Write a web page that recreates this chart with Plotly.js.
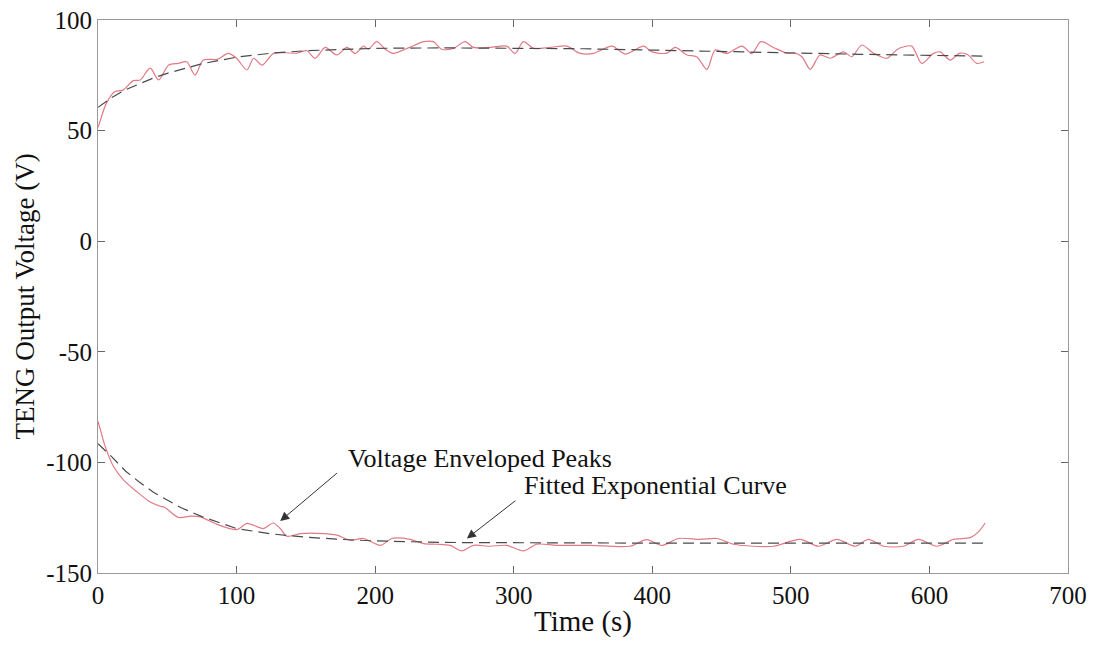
<!DOCTYPE html>
<html>
<head>
<meta charset="utf-8">
<script src="https://cdn.plot.ly/plotly-3.0.1.min.js"></script>
<style>html,body{margin:0;padding:0;background:#fff;}#chart{width:1096px;height:647px;}</style>
</head>
<body>
<div id="chart"></div>
<script>
// Upper envelope (positive voltage peaks)
var upT = [0, 1, 6, 12, 18, 25.5, 30.5, 37.7, 43.7, 51,
  58, 64, 70, 76, 86, 94, 100, 107.5, 112.3, 118.3,
  126.7, 135, 143.6, 150.7, 156.7, 164, 172.4, 179.6, 185.6, 191.6,
  195, 201.2, 207.2, 213.2, 221.6, 225, 234.9, 242, 248, 256.6,
  265, 271, 283, 295, 301, 307, 314.3, 326.3, 338.4, 348,
  357.6, 370.9, 380.4, 393.7, 399.7, 410.5, 416.5, 425, 432, 439.4,
  445.4, 453.8, 464.6, 471.9, 478.4, 487.5, 497.1, 503, 508, 514,
  521, 528.4, 538, 544, 551.2, 559.6, 569.3, 576.5, 581, 587.3,
  594.5, 602.9, 607.7, 615, 622, 628, 634, 639.5];
var upV = [51.5, 53.3, 62.3, 67.6, 68.3, 72.6, 72.9, 78.2, 72.9, 79.6,
  80.4, 81.1, 75.1, 81.9, 82.2, 84.9, 82.7, 77.4, 82.7, 79.6,
  84.9, 85.2, 85, 86.1, 82.7, 87.6, 84.2, 87.6, 84.9, 88.2,
  86.8, 90.2, 86.8, 84.9, 86.8, 87.6, 90.2, 90.2, 86.8, 87.2,
  90.2, 87.6, 87.6, 88.2, 84.9, 90.2, 87.2, 87.6, 88.2, 84.9,
  84.9, 88.2, 84.6, 88.2, 85.6, 85, 87.6, 84.2, 83.4, 77.7,
  86.4, 84.9, 88.2, 84.9, 90.2, 87.6, 85, 85, 83.4, 77.7,
  84.2, 82.7, 85.6, 83.4, 88.7, 85, 82.7, 86.6, 87.8, 88.2,
  80.4, 84.9, 85.6, 81.9, 85, 84.2, 80.4, 81.1];

// Lower envelope (negative voltage peaks)
var lowT = [0, 2.5, 5.3, 11.3, 18.5, 28.1, 37.7, 45, 48, 58.2,
  66.6, 73.8, 85.9, 100.3, 107.5, 119.5, 126.3, 131.5, 136.4, 146,
  162.8, 172.4, 182, 191.6, 203.7, 212.1, 225.3, 235, 244.6, 254,
  262.6, 271, 283, 295, 307, 316.7, 331, 355, 384, 396,
  407, 419, 434.5, 446.6, 458.6, 473, 487.5, 506.7, 520, 533.2,
  546.4, 556, 566.8, 581.2, 592, 605.3, 617.3, 629.4, 635.4, 640.2];
var lowV = [-81.5, -87, -93, -102, -108, -113.3, -117.9, -119.8, -120.3, -124.9,
  -124.3, -124.6, -128, -130.4, -127.6, -129.9, -127.4, -129.9, -133.4, -132.2,
  -132.2, -132.9, -135.2, -134.4, -137.5, -134.4, -134.8, -136.7, -137, -137.5,
  -140, -137.5, -137.9, -137.5, -140, -137, -137.5, -137.5, -137.9, -134.9,
  -137.5, -134.4, -134.8, -134.4, -137, -137.9, -137.9, -134.8, -137.9, -134.8,
  -137.9, -134.8, -137.9, -137.9, -134.8, -137.9, -134.8, -134, -131.4, -127.4];

// Fitted exponential curves
var fitT = [0, 10, 20, 30, 40, 50, 60, 75, 100, 125, 150, 175, 200, 250, 300, 350, 400, 450, 500, 550, 600, 640];
var fitUp = [60.5, 65, 68.5, 71.3, 73.8, 75.9, 77.7, 80.2, 83.2, 85, 86.1, 86.8, 87.2, 87.4, 87.3, 87, 86.4, 85.7, 85, 84.5, 84, 83.7];
var fitLow = [-91.5, -97.5, -104, -109, -113.5, -117, -120.5, -124.5, -129.9, -132.3, -133.8, -134.8, -135.5, -136.2, -136.4, -136.5, -136.5, -136.5, -136.5, -136.5, -136.5, -136.5];

// Ticks
var xTickVals = [0, 100, 200, 300, 400, 500, 600, 700];
var xTickText = ['0', '100', '200', '300', '400', '500', '600', '700'];
var yTickVals = [-150, -100, -50, 0, 50, 100];
var yTickText = ['-150', '-100', '-50', '0', '50', '100'];

var FONT = 'Liberation Serif, Times New Roman, serif';
var redLine = {color: '#e27a86', width: 1.2, shape: 'spline', smoothing: 0.8};
var dashLine = {color: '#4a4a4a', width: 1.2, dash: '11px,6px'};

var traces = [
  {x: upT, y: upV, mode: 'lines', line: redLine, hoverinfo: 'skip'},
  {x: lowT, y: lowV, mode: 'lines', line: redLine, hoverinfo: 'skip'},
  {x: fitT, y: fitUp, mode: 'lines', line: dashLine, hoverinfo: 'skip'},
  {x: fitT, y: fitLow, mode: 'lines', line: dashLine, hoverinfo: 'skip'}
];

var axisCommon = {
  showgrid: false, zeroline: false, showline: true, linecolor: '#9a9a9a', linewidth: 1,
  mirror: 'ticks', ticks: 'inside', ticklen: 7, tickcolor: '#666', tickwidth: 1,
  tickfont: {family: FONT, size: 25, color: '#111'}, tickmode: 'array'
};

var layout = {
  width: 1096, height: 647,
  margin: {l: 98, r: 28, t: 20, b: 74},
  paper_bgcolor: '#fff', plot_bgcolor: '#fff',
  showlegend: false,
  xaxis: Object.assign({}, axisCommon, {
    range: [0, 700], tickvals: xTickVals, ticktext: xTickText,
    title: {text: 'Time (s)', font: {family: FONT, size: 29, color: '#111'}, standoff: 2}
  }),
  yaxis: Object.assign({}, axisCommon, {
    range: [-150, 100], tickvals: yTickVals, ticktext: yTickText,
    title: {text: 'TENG Output Voltage (V)', font: {family: FONT, size: 27, color: '#111'}, standoff: 3}
  }),
  annotations: [
    {x: 178.7, y: -98.1, xref: 'x', yref: 'y', text: 'Voltage Enveloped Peaks', showarrow: false,
     xanchor: 'left', yanchor: 'middle', font: {family: FONT, size: 26, color: '#111'}},
    {x: 305.9, y: -110.3, xref: 'x', yref: 'y', text: 'Fitted Exponential Curve', showarrow: false,
     xanchor: 'left', yanchor: 'middle', font: {family: FONT, size: 26, color: '#111'}},
    {x: 131.5, y: -126.5, ax: 173.5, ay: -104.3, xref: 'x', yref: 'y', axref: 'x', ayref: 'y',
     text: '', showarrow: true, arrowhead: 2, arrowsize: 1.8, arrowwidth: 1, arrowcolor: '#333', standoff: 0},
    {x: 266.2, y: -134.4, ax: 302.3, ay: -116.8, xref: 'x', yref: 'y', axref: 'x', ayref: 'y',
     text: '', showarrow: true, arrowhead: 2, arrowsize: 1.8, arrowwidth: 1, arrowcolor: '#333', standoff: 0}
  ]
};

Plotly.newPlot('chart', traces, layout, {displayModeBar: false, staticPlot: true});
</script>
</body>
</html>
